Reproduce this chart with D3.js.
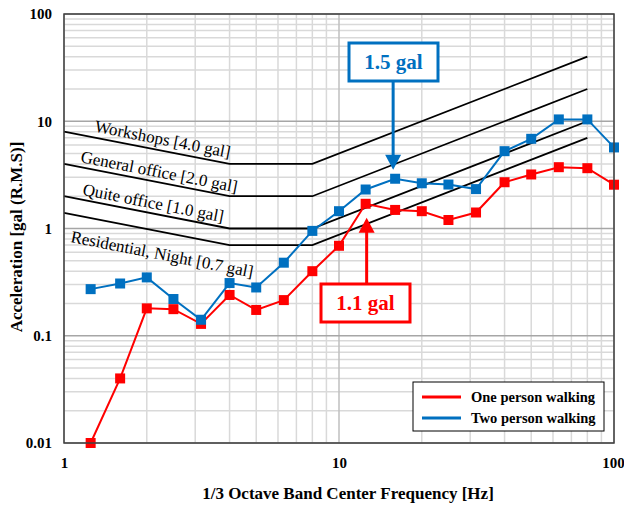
<!DOCTYPE html>
<html>
<head>
<meta charset="utf-8">
<script src="https://cdn.jsdelivr.net/npm/d3@7"></script>
<style>
  body { margin: 0; background: #fff; }
  svg { display: block; font-family: "Liberation Serif", "Times New Roman", serif; }
</style>
</head>
<body>
<script>
// 1/3 octave band centre frequencies [Hz]
var freqs = [1.25, 1.6, 2, 2.5, 3.15, 4, 5, 6.3, 8, 10, 12.5, 16, 20, 25, 31.5, 40, 50, 63, 80, 100];
// acceleration [gal rms]
var onePerson = [0.01, 0.04, 0.18, 0.177, 0.129, 0.24, 0.174, 0.215, 0.4, 0.69, 1.7, 1.49, 1.45, 1.2, 1.41, 2.7, 3.19, 3.73, 3.65, 2.56];
var twoPerson = [0.272, 0.307, 0.35, 0.22, 0.141, 0.31, 0.282, 0.48, 0.95, 1.45, 2.31, 2.91, 2.64, 2.57, 2.33, 5.26, 6.86, 10.4, 10.4, 5.7];

// criterion curves: break points (Hz) and flat level (gal)
var curveFreqs = [1, 4, 8, 80];
var curveNames = ["Workshops [4.0 gal]", "General office [2.0 gal]", "Quite office [1.0 gal]", "Residential, Night [0.7 gal]"];
var curveLevels = [4, 2, 1, 0.7];

var yTicks = [0.01, 0.1, 1, 10, 100];
var xTicks = [1, 10, 100];
var seriesNames = ["One person walking", "Two person walking"];
var seriesColors = ["#ff0000", "#0070c0"];

var W = 624, H = 506;
var m = { left: 64, top: 14, right: 10, bottom: 63 };
var pw = W - m.left - m.right, ph = H - m.top - m.bottom;

var svg = d3.select("body").append("svg").attr("width", W).attr("height", H);
var g = svg.append("g").attr("transform", "translate(" + m.left + "," + m.top + ")");

var x = d3.scaleLog().domain([1, 100]).range([0, pw]);
var y = d3.scaleLog().domain([0.01, 100]).range([ph, 0]);

/* grid */
var minorX = [], minorY = [];
[1, 10].forEach(function (d) { for (var k = 2; k <= 9; k++) minorX.push(d * k); });
[0.01, 0.1, 1, 10].forEach(function (d) { for (var k = 2; k <= 9; k++) minorY.push(d * k); });

g.selectAll(".gx").data(minorX).enter().append("line")
  .attr("x1", x).attr("x2", x).attr("y1", 0).attr("y2", ph)
  .attr("stroke", "#d9d9d9").attr("stroke-width", 1.5);
g.selectAll(".gy").data(minorY).enter().append("line")
  .attr("y1", y).attr("y2", y).attr("x1", 0).attr("x2", pw)
  .attr("stroke", "#d9d9d9").attr("stroke-width", 1.5);
g.selectAll(".gX").data(xTicks).enter().append("line")
  .attr("x1", x).attr("x2", x).attr("y1", 0).attr("y2", ph)
  .attr("stroke", "#bfbfbf").attr("stroke-width", 1.5);
g.selectAll(".gY").data(yTicks).enter().append("line")
  .attr("y1", y).attr("y2", y).attr("x1", 0).attr("x2", pw)
  .attr("stroke", "#a6a6a6").attr("stroke-width", 1.5);

/* criterion curves */
function curveValue(level, f) {
  if (f < 4) return level * Math.sqrt(4 / f);
  if (f <= 8) return level;
  return level * f / 8;
}
var cline = d3.line().x(function (d) { return x(d[0]); }).y(function (d) { return y(d[1]); });
curveLevels.forEach(function (lv) {
  g.append("path")
    .attr("d", cline(curveFreqs.map(function (f) { return [f, curveValue(lv, f)]; })))
    .attr("fill", "none").attr("stroke", "#000").attr("stroke-width", 1.8);
});

// labels along the descending part
var ang = Math.atan2(y(curveValue(1, 4)) - y(curveValue(1, 1)), x(4) - x(1)) * 180 / Math.PI;
var labelStart = [1.285, 1.144, 1.163, 1.051];
var labelOffset = [-6, -5, -5, 28];
curveNames.forEach(function (name, i) {
  var f0 = labelStart[i];
  var px = x(f0), py = y(curveValue(curveLevels[i], f0)) + labelOffset[i];
  g.append("text")
    .attr("transform", "translate(" + px + "," + py + ") rotate(" + ang + ")")
    .attr("font-size", 17).attr("fill", "#000")
    .text(name);
});

/* data series */
var sline = d3.line().x(function (d) { return x(d[0]); }).y(function (d) { return y(d[1]); });
[onePerson, twoPerson].forEach(function (vals, s) {
  var pts = freqs.map(function (f, i) { return [f, vals[i]]; });
  g.append("path").attr("d", sline(pts)).attr("fill", "none")
    .attr("stroke", seriesColors[s]).attr("stroke-width", 2);
  g.selectAll(".m" + s).data(pts).enter().append("rect")
    .attr("x", function (d) { return x(d[0]) - 5; })
    .attr("y", function (d) { return y(d[1]) - 5; })
    .attr("width", 10).attr("height", 10)
    .attr("fill", seriesColors[s]);
});

/* frame */
g.append("rect").attr("width", pw).attr("height", ph)
  .attr("fill", "none").attr("stroke", "#404040").attr("stroke-width", 1.5);

/* axes */
var xAxis = g.append("g").attr("transform", "translate(0," + ph + ")")
  .call(d3.axisBottom(x).tickValues(xTicks).tickFormat(d3.format("d")).tickSize(0).tickPadding(14));
var yAxis = g.append("g")
  .call(d3.axisLeft(y).tickValues(yTicks).tickFormat(function (d) { return d < 1 ? String(d) : d3.format("d")(d); }).tickSize(0).tickPadding(12));
[xAxis, yAxis].forEach(function (a) {
  a.select(".domain").remove();
  a.selectAll("text").attr("font-family", "Liberation Serif, serif")
    .attr("font-size", 15).attr("font-weight", "bold").attr("fill", "#000");
});
xAxis.selectAll("text").attr("dy", "0.71em");
// keep the last tick label inside the page
xAxis.selectAll(".tick").filter(function (d) { return d === 100; }).select("text").attr("dx", -1);

svg.append("text")
  .attr("x", 348).attr("y", 499)
  .attr("text-anchor", "middle").attr("font-size", 17).attr("font-weight", "bold")
  .text("1/3 Octave Band Center Frequency [Hz]");
svg.append("text")
  .attr("transform", "translate(22,237) rotate(-90)")
  .attr("text-anchor", "middle").attr("font-size", 17).attr("font-weight", "bold")
  .text("Acceleration [gal (R.M.S)]");

/* annotations */
function callout(label, color, bx, by, bw, bh, ax, ay0, ay1) {
  var dir = ay1 > ay0 ? 1 : -1;
  g.append("line").attr("x1", ax).attr("x2", ax).attr("y1", ay0).attr("y2", ay1 - dir * 14)
    .attr("stroke", color).attr("stroke-width", 3);
  g.append("path")
    .attr("d", "M" + (ax - 8) + "," + (ay1 - dir * 15) + "L" + (ax + 8) + "," + (ay1 - dir * 15) + "L" + ax + "," + ay1 + "Z")
    .attr("fill", color);
  g.append("rect").attr("x", bx).attr("y", by).attr("width", bw).attr("height", bh)
    .attr("fill", "#fff").attr("stroke", color).attr("stroke-width", 3);
  g.append("text").attr("x", bx + bw / 2).attr("y", by + bh / 2 + 7)
    .attr("text-anchor", "middle").attr("font-size", 21).attr("font-weight", "bold")
    .attr("fill", color).text(label);
}
// blue: points down at the 16 Hz two-person value
callout("1.5 gal", "#0070c0", 349 - m.left, 43 - m.top, 89, 38,
  x(16) - 2, 81 - m.top, y(twoPerson[11]) - 9);
// red: points up at the 12.5 Hz one-person value
callout("1.1 gal", "#ff0000", 321 - m.left, 284 - m.top, 89, 38,
  x(12.5) + 1, 284 - m.top, y(onePerson[10]) + 14);

/* legend */
var lg = g.append("g").attr("transform", "translate(" + (413 - m.left) + "," + (382 - m.top) + ")");
lg.append("rect").attr("width", 191).attr("height", 49)
  .attr("fill", "#fff").attr("stroke", "#000").attr("stroke-width", 1);
seriesNames.forEach(function (n, i) {
  var yy = 15 + i * 21;
  lg.append("line").attr("x1", 9).attr("x2", 48).attr("y1", yy).attr("y2", yy)
    .attr("stroke", seriesColors[i]).attr("stroke-width", 3);
  lg.append("text").attr("x", 58).attr("y", yy + 5)
    .attr("font-size", 14.5).attr("font-weight", "bold").text(n);
});
</script>
</body>
</html>
